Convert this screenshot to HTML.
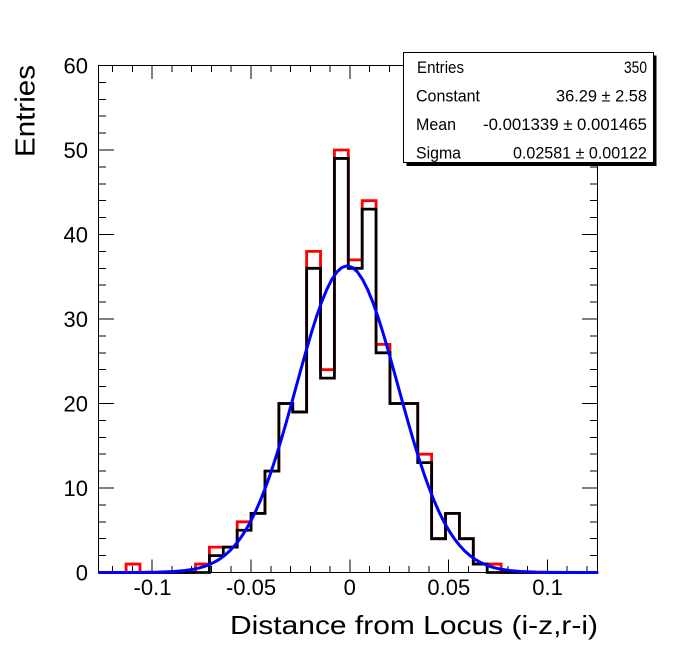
<!DOCTYPE html>
<html><head><meta charset="utf-8"><style>
html,body{margin:0;padding:0;background:#fff;}
svg{display:block;}
text{font-family:"Liberation Sans",Arial,sans-serif;fill:#000;}
</style></head><body>
<svg width="696" height="652" viewBox="0 0 696 652" xmlns="http://www.w3.org/2000/svg">
<rect x="0" y="0" width="696" height="652" fill="#fff"/>

<!-- frame -->
<rect x="98.5" y="65.5" width="499" height="507" fill="none" stroke="#000" stroke-width="1" shape-rendering="crispEdges"/>

<!-- Y ticks left -->
<path shape-rendering="crispEdges" stroke="#000" stroke-width="1" fill="none" d="
M98 572.5h16 M98 555.6h8 M98 538.7h8 M98 521.8h8 M98 504.9h8
M98 488h16 M98 471.1h8 M98 454.2h8 M98 437.3h8 M98 420.4h8
M98 403.5h16 M98 386.6h8 M98 369.7h8 M98 352.8h8 M98 335.9h8
M98 319h16 M98 302.1h8 M98 285.2h8 M98 268.3h8 M98 251.4h8
M98 234.5h16 M98 217.6h8 M98 200.7h8 M98 183.8h8 M98 166.9h8
M98 150h16 M98 133.1h8 M98 116.2h8 M98 99.3h8 M98 82.4h8
M98 65.5h16"/>
<!-- Y ticks right -->
<path shape-rendering="crispEdges" stroke="#000" stroke-width="1" fill="none" d="
M598 572.5h-16 M598 555.6h-8 M598 538.7h-8 M598 521.8h-8 M598 504.9h-8
M598 488h-16 M598 471.1h-8 M598 454.2h-8 M598 437.3h-8 M598 420.4h-8
M598 403.5h-16 M598 386.6h-8 M598 369.7h-8 M598 352.8h-8 M598 335.9h-8
M598 319h-16 M598 302.1h-8 M598 285.2h-8 M598 268.3h-8 M598 251.4h-8
M598 234.5h-16 M598 217.6h-8 M598 200.7h-8 M598 183.8h-8 M598 166.9h-8
M598 150h-16 M598 133.1h-8 M598 116.2h-8 M598 99.3h-8 M598 82.4h-8
M598 65.5h-16"/>
<!-- X ticks bottom -->
<path shape-rendering="crispEdges" stroke="#000" stroke-width="1" fill="none" d="
M112.7 573v-7 M132.5 573v-7 M152.2 573v-13.5 M172 573v-7 M191.7 573v-7 M211.5 573v-7 M231.2 573v-7
M251 573v-13.5 M270.8 573v-7 M290.5 573v-7 M310.3 573v-7 M330 573v-7
M349.8 573v-13.5 M369.6 573v-7 M389.3 573v-7 M409.1 573v-7 M428.8 573v-7
M448.6 573v-13.5 M468.4 573v-7 M488.1 573v-7 M507.9 573v-7 M527.6 573v-7
M547.4 573v-13.5 M567.2 573v-7 M586.9 573v-7"/>
<!-- X ticks top -->
<path shape-rendering="crispEdges" stroke="#000" stroke-width="1" fill="none" d="
M112.7 65v7 M132.5 65v7 M152.2 65v14 M172 65v7 M191.7 65v7 M211.5 65v7 M231.2 65v7
M251 65v14 M270.8 65v7 M290.5 65v7 M310.3 65v7 M330 65v7
M349.8 65v14 M369.6 65v7 M389.3 65v7 M409.1 65v7 M428.8 65v7
M448.6 65v14 M468.4 65v7 M488.1 65v7 M507.9 65v7 M527.6 65v7
M547.4 65v14 M567.2 65v7 M586.9 65v7"/>

<!-- Y labels -->
<g font-size="22" text-anchor="end">
<text x="88" y="580.3">0</text>
<text x="88" y="495.8">10</text>
<text x="88" y="411.3">20</text>
<text x="88" y="326.8">30</text>
<text x="88" y="242.3">40</text>
<text x="88" y="157.8">50</text>
<text x="88" y="73.3">60</text>
</g>
<!-- X labels -->
<g font-size="22" text-anchor="middle">
<text x="152.5" y="595">-0.1</text>
<text x="251" y="595">-0.05</text>
<text x="349.8" y="595">0</text>
<text x="448.8" y="595">0.05</text>
<text x="547.6" y="595">0.1</text>
</g>

<!-- Axis titles -->
<text x="230" y="634" font-size="26" textLength="368" lengthAdjust="spacingAndGlyphs">Distance from Locus (i-z,r-i)</text>
<text transform="translate(34.5,157) rotate(-90)" font-size="28" textLength="92" lengthAdjust="spacingAndGlyphs">Entries</text>

<!-- red histogram -->
<path fill="none" stroke="#ff0000" stroke-width="2.8" stroke-linejoin="miter" d="M98.3,572.5 H126.08 V564.05 H139.97 V572.5 H195.52 V564.05 H209.41 V547.15 H237.19 V521.8 H251.08 V513.35 H264.97 V471.1 H278.86 V403.5 H292.74 V411.95 H306.63 V251.4 H320.52 V369.7 H334.41 V150 H348.3 V259.85 H362.19 V200.7 H376.08 V344.35 H389.97 V403.5 H417.74 V454.2 H431.63 V538.7 H445.52 V513.35 H459.41 V538.7 H473.3 V564.05 H501.08 V572.5 H598.3"/>
<!-- black histogram -->
<path fill="none" stroke="#000" stroke-width="2.8" stroke-linejoin="miter" d="M98.3,572.5 H209.41 V555.6 H223.3 V547.15 H237.19 V530.25 H251.08 V513.35 H264.97 V471.1 H278.86 V403.5 H292.74 V411.95 H306.63 V268.3 H320.52 V378.15 H334.41 V158.45 H348.3 V268.3 H362.19 V209.15 H376.08 V352.8 H389.97 V403.5 H417.74 V462.65 H431.63 V538.7 H445.52 V513.35 H459.41 V538.7 H473.3 V564.05 H487.19 V572.5 H598.3"/>

<!-- gaussian fit -->
<polyline fill="none" stroke="#0000ff" stroke-width="3" stroke-linejoin="round" points="
98.5,572.5 117.7,572.5 143.2,572.4 158.5,572.17 173.8,571.55 184,570.67 194.2,569.09 199.3,567.92 204.4,566.42 209.5,564.49 214.6,562.06 219.7,559.03 224.8,555.29 229.9,550.73 235,545.23 240.1,538.69 245.2,531 250.3,522.07 255.4,511.81 260.5,500.21 265.6,487.24 270.7,472.95 275.8,457.41 280.9,440.78 286,423.24 291.1,405.05 296.2,386.5 301.3,367.97 306.4,349.83 311.5,332.48 316.6,316.36 321.7,301.88 326.8,289.42 331.9,279.34 337,271.92 342.1,267.38 347.2,265.85 352.3,267.38 357.4,271.92 362.5,279.34 367.6,289.42 372.7,301.88 377.8,316.36 382.9,332.48 388,349.83 393.1,367.97 398.2,386.5 403.3,405.05 408.4,423.24 413.5,440.78 418.6,457.41 423.7,472.95 428.8,487.24 433.9,500.21 439,511.81 444.1,522.07 449.2,531 454.3,538.69 459.4,545.23 464.5,550.73 469.6,555.29 474.7,559.03 479.8,562.06 484.9,564.49 490,566.42 495.1,567.92 500.2,569.09 510.4,570.67 520.6,571.55 535.9,572.17 551.2,572.4 576.7,572.5 597.5,572.5"/>

<!-- stats box -->
<rect x="653.5" y="55.5" width="3" height="110.5" fill="#000"/>
<rect x="406.5" y="162.5" width="250" height="3.5" fill="#000"/>
<rect x="403.5" y="52.5" width="250" height="110" fill="#fff" stroke="#000" stroke-width="1" shape-rendering="crispEdges"/>
<g style="font-size:16.5px">
<text x="417" y="73" textLength="47" lengthAdjust="spacingAndGlyphs">Entries</text>
<text x="416" y="101.5" textLength="64" lengthAdjust="spacingAndGlyphs">Constant</text>
<text x="416" y="130" textLength="40" lengthAdjust="spacingAndGlyphs">Mean</text>
<text x="416" y="158.5" textLength="45" lengthAdjust="spacingAndGlyphs">Sigma</text>
<text x="624" y="73" textLength="23" lengthAdjust="spacingAndGlyphs">350</text>
<text x="556" y="101.5" textLength="91" lengthAdjust="spacingAndGlyphs">36.29 ± 2.58</text>
<text x="483" y="130" textLength="164" lengthAdjust="spacingAndGlyphs">-0.001339  ± 0.001465</text>
<text x="513" y="158.5" textLength="134" lengthAdjust="spacingAndGlyphs">0.02581 ± 0.00122</text>
</g>
</svg>
</body></html>
